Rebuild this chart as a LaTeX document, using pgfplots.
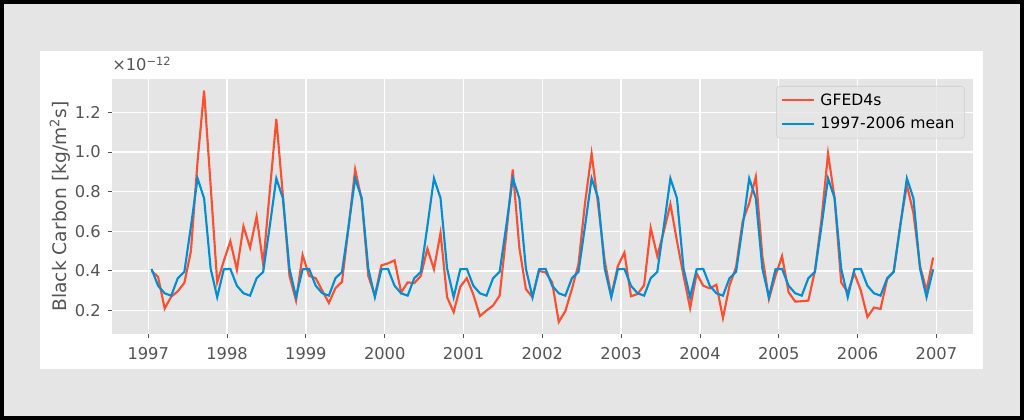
\documentclass[border=0pt]{standalone}
\usepackage{fontspec}
\setmainfont{DejaVu Sans}
\usepackage{pgfplots}
\pgfplotsset{compat=1.18}
\usepackage{pgfplotstable}
\definecolor{bgc}{HTML}{E5E5E5}
\definecolor{tickc}{HTML}{555555}
\definecolor{cred}{HTML}{FC4F30}
\definecolor{cblue}{HTML}{008FD5}
\definecolor{legedge}{HTML}{CCCCCC}

% m = month index from Jan 1997 (0..119); values in units of 1e-12 kg/m^2/s
\pgfplotstableread{
m gfed mean
0 0.400 0.410
1 0.370 0.325
2 0.210 0.287
3 0.270 0.275
4 0.297 0.363
5 0.340 0.395
6 0.500 0.625
7 0.950 0.867
8 1.310 0.767
9 0.830 0.412
10 0.342 0.267
11 0.450 0.408
12 0.550 0.410
13 0.405 0.325
14 0.625 0.287
15 0.517 0.275
16 0.675 0.363
17 0.433 0.395
18 0.800 0.625
19 1.167 0.867
20 0.780 0.767
21 0.375 0.412
22 0.250 0.267
23 0.480 0.408
24 0.375 0.410
25 0.363 0.325
26 0.300 0.287
27 0.238 0.275
28 0.313 0.363
29 0.345 0.395
30 0.620 0.625
31 0.912 0.867
32 0.758 0.767
33 0.375 0.412
34 0.275 0.267
35 0.428 0.408
36 0.438 0.410
37 0.453 0.325
38 0.292 0.287
39 0.342 0.275
40 0.338 0.363
41 0.375 0.395
42 0.512 0.625
43 0.408 0.867
44 0.592 0.767
45 0.267 0.412
46 0.192 0.267
47 0.320 0.408
48 0.363 0.410
49 0.280 0.325
50 0.172 0.287
51 0.200 0.275
52 0.225 0.363
53 0.275 0.395
54 0.580 0.625
55 0.912 0.867
56 0.517 0.767
57 0.308 0.412
58 0.267 0.267
59 0.400 0.408
60 0.392 0.410
61 0.342 0.325
62 0.142 0.287
63 0.197 0.275
64 0.308 0.363
65 0.433 0.395
66 0.742 0.625
67 0.992 0.867
68 0.733 0.767
69 0.450 0.412
70 0.275 0.267
71 0.425 0.408
72 0.492 0.410
73 0.272 0.325
74 0.283 0.287
75 0.328 0.275
76 0.617 0.363
77 0.475 0.395
78 0.600 0.625
79 0.737 0.867
80 0.550 0.767
81 0.375 0.412
82 0.212 0.267
83 0.387 0.408
84 0.325 0.410
85 0.312 0.325
86 0.330 0.287
87 0.162 0.275
88 0.325 0.363
89 0.420 0.395
90 0.650 0.625
91 0.742 0.867
92 0.875 0.767
93 0.475 0.412
94 0.258 0.267
95 0.375 0.408
96 0.475 0.410
97 0.292 0.325
98 0.245 0.287
99 0.247 0.275
100 0.250 0.363
101 0.400 0.395
102 0.658 0.625
103 0.992 0.867
104 0.767 0.767
105 0.342 0.412
106 0.292 0.267
107 0.388 0.408
108 0.300 0.410
109 0.167 0.325
110 0.215 0.287
111 0.208 0.275
112 0.358 0.363
113 0.397 0.395
114 0.633 0.625
115 0.833 0.867
116 0.692 0.767
117 0.425 0.412
118 0.300 0.267
119 0.467 0.408
}\datatable

\newcommand{\fsz}{\fontsize{11.7}{13.5}\selectfont}
\newcommand{\tsz}{\fontsize{12.2}{14}\selectfont}
\newcommand{\lsz}{\fontsize{14}{16}\selectfont}

\begin{document}
\begin{tikzpicture}[x=1pt,y=1pt]
\fill[black] (0,0) rectangle (768,315);
\fill[bgc] (3,3) rectangle (765,312);
\fill[white] (30,38.25) rectangle (737.25,276.75);
\begin{axis}[
  at={(84pt,64.5pt)}, anchor=south west,
  scale only axis, width=645.5pt, height=191.25pt,
  xmin=1996.54, xmax=2007.46, ymin=0.0815, ymax=1.3685,
  axis background/.style={fill=bgc},
  axis line style={draw=none},
  grid=major, major grid style={white, line width=1pt},
  xtick={1997,1998,1999,2000,2001,2002,2003,2004,2005,2006,2007},
  ytick={0.2,0.4,0.6,0.8,1.0,1.2},
  /pgf/number format/assume math mode=true,
  x tick label style={/pgf/number format/1000 sep={}, yshift=-3.3pt},
  y tick label style={/pgf/number format/.cd, fixed, fixed zerofill, precision=1, /tikz/.cd, xshift=-2pt},
  tick align=outside, tick pos=left, major tick length=3pt,
  tick style={tickc, line width=0.6pt},
  ticklabel style={font=\tsz, color=tickc},
  ylabel={Black Carbon [kg/m\textsuperscript{2}s]},
  every axis y label/.style={at={(axis description cs:-0.0604,0.5)}, anchor=center, rotate=90, font=\lsz, color=tickc},
  legend cell align=left,
  legend style={at={(rel axis cs:1,1)}, anchor=north east, xshift=-5.8pt, yshift=-5.25pt,
    fill=bgc, fill opacity=0.8, text opacity=1, draw=legedge, rounded corners=2.5pt,
    font=\fsz, row sep=3.5pt, inner xsep=3.5pt, inner ysep=3.5pt,
    nodes={inner xsep=4pt}},
  legend image code/.code={\draw[#1] (0pt,0pt) -- (24pt,0pt);},
  clip mode=individual,
]
\addplot[cred, line width=1.6pt] table[x expr=1997+(\thisrow{m}+0.5)/12, y=gfed] {\datatable};
\addlegendentry{GFED4s}
\addplot[cblue, line width=1.6pt] table[x expr=1997+(\thisrow{m}+0.5)/12, y=mean] {\datatable};
\addlegendentry{1997-2006 mean}
\end{axis}
\node[anchor=base west, font=\tsz, color=tickc, inner sep=0pt] at (84,261.75) {×10\textsuperscript{−12}};
\end{tikzpicture}
\end{document}
